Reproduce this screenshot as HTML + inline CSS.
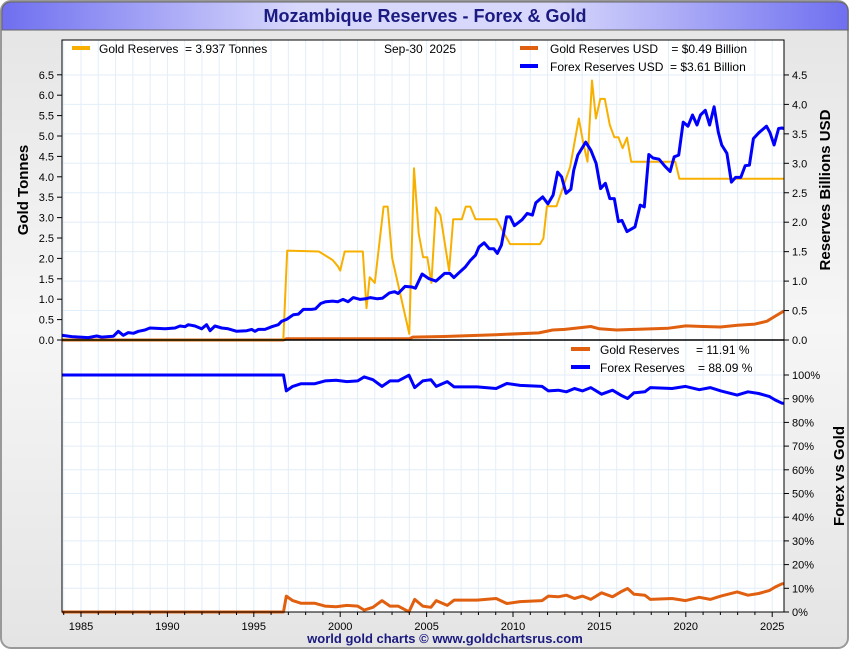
<!DOCTYPE html>
<html><head><meta charset="utf-8"><style>
html,body{margin:0;padding:0;background:#fff}
svg{display:block;font-family:"Liberation Sans",sans-serif}
text{white-space:pre}
</style></head><body>
<svg id="c" width="850" height="650" viewBox="0 0 850 650" xml:space="preserve">
<defs>
<linearGradient id="tb" x1="0" x2="1" y1="0" y2="0"><stop offset="0" stop-color="#6f6ff0"/><stop offset="0.35" stop-color="#d8d8fc"/><stop offset="0.65" stop-color="#d8d8fc"/><stop offset="1" stop-color="#6f6ff0"/></linearGradient>
<linearGradient id="bg" x1="0" x2="0" y1="0" y2="1"><stop offset="0" stop-color="#e4e4e4"/><stop offset="0.5" stop-color="#f6f6f6"/><stop offset="1" stop-color="#e4e4e4"/></linearGradient>
</defs>
<rect x="1" y="1" width="847" height="647" rx="10" fill="url(#bg)" stroke="#999" stroke-width="2"/>
<path d="M2,30 L2,12 Q2,2 12,2 L838,2 Q848,2 848,12 L848,30 Z" fill="url(#tb)" stroke="#666"/>
<text x="425" y="22" text-anchor="middle" font-size="18" font-weight="bold" fill="#1a1a80">Mozambique Reserves - Forex &amp; Gold</text>
<rect x="62" y="40" width="722" height="572" fill="#fff"/>
<g id="grid"></g>
<g id="series"></g>
<rect x="62" y="40" width="722" height="572" fill="none" stroke="#000" stroke-width="1"/>
<line x1="62" y1="340" x2="784" y2="340" stroke="#000" stroke-width="1.5"/>
<g id="axes" font-size="11" fill="#000"></g>
<text transform="translate(28,190) rotate(-90)" text-anchor="middle" font-size="15" font-weight="bold">Gold Tonnes</text>
<text transform="translate(830,190) rotate(-90)" text-anchor="middle" font-size="15" font-weight="bold">Reserves Billions USD</text>
<text transform="translate(844,476) rotate(-90)" text-anchor="middle" font-size="15" font-weight="bold">Forex vs Gold</text>
<g font-size="12">
<rect x="72" y="46" width="18" height="4" fill="#f8b000"/>
<text x="99" y="53">Gold Reserves  = 3.937 Tonnes</text>
<text x="384" y="53">Sep-30  2025</text>
<rect x="520" y="46" width="18" height="4" fill="#e06010"/>
<text x="550" y="53">Gold Reserves USD    = $0.49 Billion</text>
<rect x="520" y="64" width="18" height="4" fill="#0000ff"/>
<text x="550" y="71">Forex Reserves USD  = $3.61 Billion</text>
</g>
<g font-size="12">
<rect x="571" y="347" width="19" height="4" fill="#e06010"/>
<text x="600" y="354">Gold Reserves     = 11.91 %</text>
<rect x="571" y="365" width="19" height="4" fill="#0000ff"/>
<text x="600" y="372">Forex Reserves    = 88.09 %</text>
</g>
<text x="445" y="643" text-anchor="middle" font-size="13" font-weight="bold" fill="#1a1a80">world gold charts © www.goldchartsrus.com</text>
</svg>
<script>
const goldYears=[1983.9,1996.71,1996.93,1998.77,1999.56,1999.86,2000.0,2000.26,2001.31,2001.52,2001.71,2002.0,2002.51,2002.75,2003.01,2004.0,2004.27,2004.54,2004.8,2005.04,2005.28,2005.54,2005.8,2006.3,2006.54,2007.04,2007.27,2007.53,2007.83,2009.05,2009.43,2009.83,2011.56,2011.76,2011.96,2012.52,2012.81,2013.31,2013.81,2014.07,2014.31,2014.57,2014.8,2015.05,2015.31,2015.6,2015.86,2016.1,2016.34,2016.6,2016.84,2019.39,2019.63,2025.7];
const goldTonnes=[0,0,2.19,2.17,1.96,1.81,1.70,2.17,2.17,0.78,1.54,1.40,3.27,3.27,2.00,0.15,4.21,2.61,2.03,2.03,1.40,3.25,3.06,1.70,2.96,2.96,3.27,3.27,2.96,2.96,2.65,2.35,2.35,2.49,3.28,3.28,3.64,4.25,5.43,4.82,4.37,6.36,5.43,5.91,5.91,5.27,4.97,4.97,4.70,4.96,4.37,4.37,3.95,3.95];
const forexYears=[1983.88,1984.46,1985.42,1985.91,1986.2,1986.87,1987.16,1987.45,1987.74,1988.03,1988.32,1988.7,1988.99,1989.86,1990.44,1990.73,1991.02,1991.21,1991.6,1991.98,1992.27,1992.47,1992.75,1993.14,1993.52,1994.01,1994.59,1994.88,1995.07,1995.26,1995.65,1996.04,1996.42,1996.61,1996.9,1997.29,1997.58,1997.87,1998.35,1998.57,1998.87,1999.16,1999.56,1999.86,2000.16,2000.46,2000.76,2001.16,2001.46,2001.75,2002.15,2002.45,2002.85,2003.15,2003.35,2003.75,2004.15,2004.35,2004.74,2005.14,2005.54,2006.04,2006.34,2006.58,2006.94,2007.24,2007.53,2007.83,2008.03,2008.33,2008.63,2008.89,2009.09,2009.33,2009.63,2009.83,2010.08,2010.52,2010.82,2011.12,2011.32,2011.72,2012.02,2012.32,2012.58,2012.81,2013.07,2013.35,2013.51,2013.75,2014.21,2014.51,2014.81,2015.07,2015.35,2015.6,2015.86,2016.1,2016.3,2016.6,2017.06,2017.36,2017.6,2017.86,2018.1,2018.45,2018.79,2019.09,2019.33,2019.59,2019.85,2020.13,2020.39,2020.65,2020.85,2021.13,2021.38,2021.64,2021.88,2022.08,2022.38,2022.64,2022.88,2023.18,2023.44,2023.68,2023.91,2024.23,2024.67,2024.87,2025.11,2025.37,2025.57,2025.67];
const forexUSD=[0.08,0.057,0.04,0.068,0.05,0.062,0.147,0.08,0.125,0.113,0.147,0.17,0.204,0.19,0.204,0.238,0.226,0.26,0.238,0.19,0.26,0.158,0.238,0.204,0.19,0.147,0.158,0.18,0.147,0.18,0.18,0.226,0.26,0.317,0.35,0.43,0.44,0.52,0.52,0.53,0.62,0.65,0.66,0.65,0.69,0.65,0.72,0.69,0.70,0.72,0.70,0.71,0.80,0.82,0.79,0.91,0.90,0.88,1.12,1.04,1.00,1.13,1.13,1.06,1.16,1.24,1.35,1.44,1.58,1.65,1.55,1.55,1.47,1.61,2.09,2.09,1.94,2.04,2.15,2.12,2.33,2.43,2.31,2.46,2.85,2.77,2.49,2.56,2.88,3.14,3.36,3.22,3.00,2.57,2.66,2.40,2.40,2.01,2.03,1.84,1.92,2.29,2.26,3.15,3.09,3.07,2.95,2.86,3.11,3.14,3.70,3.63,3.82,3.65,3.82,3.90,3.65,3.96,3.53,3.31,3.17,2.68,2.76,2.76,2.96,2.97,3.42,3.52,3.63,3.52,3.31,3.59,3.60,3.59];
const goldUsdYears=[1983.9,1996.7,1996.9,2000,2004,2004.2,2006,2009,2011.5,2012.3,2013,2014.5,2015,2016,2017,2019,2020,2021,2022,2023,2024,2024.7,2025.2,2025.67];
const goldUSD=[0,0,0.02,0.02,0.02,0.05,0.06,0.09,0.12,0.17,0.18,0.23,0.19,0.17,0.18,0.20,0.24,0.23,0.22,0.25,0.27,0.32,0.41,0.49];
const pctYears=[1983.9,1996.72,1996.88,1997.25,1997.72,1998.51,1999.12,1999.76,2000.39,2001.01,2001.39,2001.89,2002.42,2002.88,2003.35,2003.98,2004.31,2004.78,2005.25,2005.56,2006.19,2006.6,2007.92,2009.02,2009.64,2010.41,2011.68,2012.05,2012.62,2013.09,2013.56,2014.03,2014.5,2015.13,2015.76,2016.23,2016.63,2017.0,2017.63,2017.95,2019.2,2019.99,2020.78,2021.41,2022.03,2022.97,2023.6,2024.22,2024.85,2025.16,2025.57,2025.7];
const goldPct=[0,0,6.7,4.8,3.7,3.7,2.5,2.2,2.8,2.5,0.8,2.0,4.8,2.5,2.5,0.1,5.3,2.5,2.0,4.8,2.8,5.0,5.0,5.7,3.6,4.4,4.8,6.7,6.4,7.1,5.7,6.7,5.3,8.1,6.4,8.5,9.9,7.5,7.1,5.3,5.7,4.8,6.2,5.3,6.7,8.5,7.1,7.8,9.1,10.5,11.9,11.9];
const forexPct=goldPct.map(v=>100-v);
const tonneTicks=[0,0.5,1,1.5,2,2.5,3,3.5,4,4.5,5,5.5,6,6.5];
const usdTicks=[0,0.5,1,1.5,2,2.5,3,3.5,4,4.5];
const pctTicks=[0,10,20,30,40,50,60,70,80,90,100];
const yearTicks=[1985,1990,1995,2000,2005,2010,2015,2020,2025];

const NS="http://www.w3.org/2000/svg";
const X=y=>81+(y-1985)*17.28;
const YT=v=>340-v*40.8;
const YU=v=>340-v*58.9;
const YP=v=>612-v*2.37;
function mk(tag,attrs,parent){const e=document.createElementNS(NS,tag);for(const k in attrs)e.setAttribute(k,attrs[k]);parent.appendChild(e);return e;}
const grid=document.getElementById('grid'),ser=document.getElementById('series'),ax=document.getElementById('axes');
for(let yr=1984;yr<=2025;yr++){const l=mk('line',{x1:X(yr),x2:X(yr),y1:40,y2:612,stroke:'#e2eef8','stroke-width':1},grid);


const t=mk('line',{x1:X(yr),x2:X(yr),y1:612,y2:yearTicks.includes(yr)?617:615,stroke:'#000'},ax);

}
usdTicks.forEach(v=>{const l=mk('line',{x1:62,x2:784,y1:YU(v),y2:YU(v),stroke:'#e2eef8'},grid);


const t=mk('line',{x1:784,x2:789,y1:YU(v),y2:YU(v),stroke:'#000'},ax);


const tx=mk('text',{x:792,y:YU(v)+4},ax);tx.textContent=v.toFixed(1);

});
tonneTicks.forEach(v=>{const t=mk('line',{x1:57,x2:62,y1:YT(v),y2:YT(v),stroke:'#000'},ax);


const tx=mk('text',{x:54,y:YT(v)+4,'text-anchor':'end'},ax);tx.textContent=v.toFixed(1);

});
pctTicks.forEach(v=>{const l=mk('line',{x1:62,x2:784,y1:YP(v),y2:YP(v),stroke:'#e2eef8'},grid);


const t=mk('line',{x1:784,x2:789,y1:YP(v),y2:YP(v),stroke:'#000'},ax);


const tx=mk('text',{x:792,y:YP(v)+4},ax);tx.textContent=v+'%';

});
yearTicks.forEach(yr=>{const tx=mk('text',{x:X(yr),y:630,'text-anchor':'middle'},ax);tx.textContent=yr;

});
function line(xs,vs,yf,color,w,name){const d=xs.map((x,i)=>(i?'L':'M')+X(x).toFixed(1)+','+yf(vs[i]).toFixed(1)).join('');
const p=mk('path',{d:d,fill:'none',stroke:color,'stroke-width':w,'stroke-linejoin':'round'},ser);

}
line(goldUsdYears,goldUSD,YU,'#e06010',3,'gold-usd-line');
line(goldYears,goldTonnes,YT,'#f8b000',2,'gold-tonnes-line');
line(forexYears,forexUSD,YU,'#0000ff',3,'forex-usd-line');
line(pctYears,goldPct,YP,'#e06010',3,'gold-pct-line');
line(pctYears,forexPct,YP,'#0000ff',3,'forex-pct-line');
</script>
</body></html>
